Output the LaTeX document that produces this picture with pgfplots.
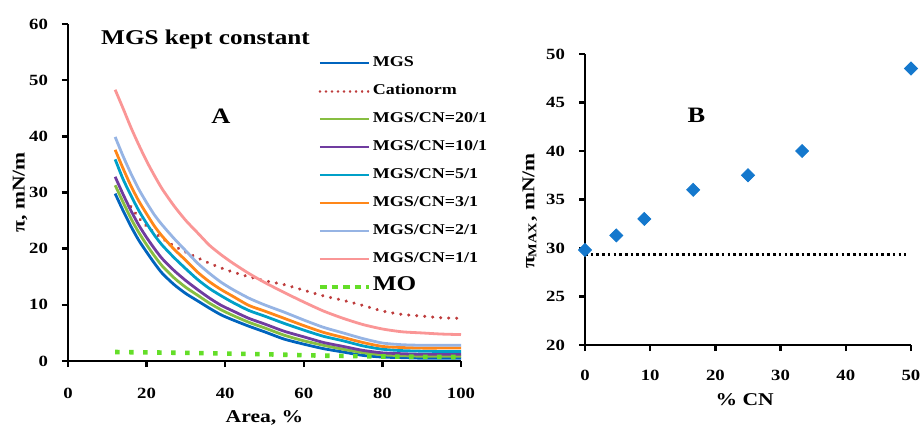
\documentclass[border=0pt]{standalone}
\usepackage{fontspec}
\setmainfont{Liberation Serif}[FakeStretch=1.2]
\usepackage{pgfplots}
\pgfplotsset{compat=1.18}
\definecolor{cMGS}{RGB}{0,100,190}
\definecolor{cCat}{RGB}{190,60,60}
\definecolor{cG}{RGB}{135,190,65}
\definecolor{cP}{RGB}{112,60,160}
\definecolor{cT}{RGB}{0,160,200}
\definecolor{cO}{RGB}{255,135,25}
\definecolor{cLB}{RGB}{150,180,228}
\definecolor{cPk}{RGB}{250,150,150}
\definecolor{cMO}{RGB}{100,222,40}
\definecolor{cDia}{RGB}{20,120,205}
\pgfplotsset{
  common/.style={
    scale only axis,
    axis x line*=bottom, axis y line*=left,
    axis line style={line width=1.2pt, black},
    tick style={line width=1.2pt, black},
    tick align=outside, major tick length=3pt,
    minor tick num=0,
    /pgf/number format/assume math mode=true,
    ticklabel style={font=\bfseries\fontsize{7.8}{9}\selectfont},
    yticklabel style={xshift=-3.5pt},
    label style={font=\bfseries\fontsize{9}{11}\selectfont},
    clip=false,
  },
  crv/.style={line width=1.4pt, smooth, tension=0.4, legend image post style={line width=1.1pt}},
}
\begin{document}
\begin{tikzpicture}
\path[use as bounding box] (0,0) rectangle (460.5pt,212.5pt);
\begin{axis}[common,
  at={(34pt,32pt)}, anchor=south west,
  width=196.5pt, height=168.5pt,
  xmin=0, xmax=100, ymin=0, ymax=60,
  xtick={0,20,...,100}, ytick={0,10,...,60},
  xticklabel style={yshift=-7pt},
  xlabel={Area, \%}, ylabel={π, mN/m},
  xlabel style={at={(axis description cs:0.5,-0.168)}, anchor=center},
  ylabel style={at={(axis description cs:-0.122,0.5)}, anchor=center},
  legend style={at={(0.635,0.91)}, anchor=north west, draw=none, fill=none,
    inner sep=0pt, row sep=5.5pt,
    font=\bfseries\fontsize{7.5}{9}\selectfont,
    nodes={inner sep=1pt, text height=5pt, text depth=1.5pt}},
  legend cell align=left,
  legend image code/.code={\draw[#1] (0pt,0pt) -- (24.5pt,0pt);},
]
\addplot[cMGS, crv] coordinates {
(12,29.8)(14,26.8)(16,24.0)(18,21.5)(20,19.4)(22,17.4)(24,15.6)(27,13.6)(30,12.0)(33,10.7)(36,9.4)(39,8.2)(42,7.3)(46,6.2)(50,5.2)(55,3.9)(60,3.0)(65,2.2)(70,1.6)(75,1.0)(80,0.7)(85,0.6)(90,0.5)(95,0.5)(100,0.5)};
\addlegendentry{MGS}
\addplot[cCat, line width=1.7pt, line cap=round, dash pattern=on 0.01pt off 4pt, smooth, tension=0.4, legend image post style={line width=1.3pt, dash pattern=on 0.01pt off 3pt}] coordinates {
(16,27.5)(18,25.5)(20,24.0)(24,21.8)(28,20.1)(32,18.7)(36,17.4)(40,16.3)(45,15.2)(50,14.3)(55,13.6)(60,12.6)(65,11.6)(70,10.8)(75,9.9)(80,8.9)(85,8.3)(90,8.0)(95,7.7)(100,7.6)};
\addlegendentry{Cationorm}
\addplot[cG, crv] coordinates {
(12,31.3)(14,28.3)(16,25.4)(18,22.9)(20,20.7)(22,18.7)(24,16.9)(27,14.8)(30,13.1)(33,11.7)(36,10.3)(39,9.1)(42,8.1)(46,6.9)(50,5.9)(55,4.6)(60,3.6)(65,2.8)(70,2.1)(75,1.5)(80,1.1)(85,0.95)(90,0.85)(95,0.85)(100,0.85)};
\addlegendentry{MGS/CN=20/1}
\addplot[cP, crv] coordinates {
(12,32.8)(14,29.7)(16,26.8)(18,24.2)(20,22.0)(22,20.0)(24,18.2)(27,16.1)(30,14.3)(33,12.7)(36,11.2)(39,9.9)(42,8.9)(46,7.6)(50,6.6)(55,5.3)(60,4.3)(65,3.3)(70,2.6)(75,1.9)(80,1.45)(85,1.3)(90,1.2)(95,1.2)(100,1.2)};
\addlegendentry{MGS/CN=10/1}
\addplot[cT, crv] coordinates {
(12,35.9)(14,32.4)(16,29.5)(18,26.8)(20,24.5)(22,22.4)(24,20.6)(27,18.4)(30,16.4)(33,14.5)(36,12.9)(39,11.6)(42,10.4)(46,9.0)(50,8.0)(55,6.7)(60,5.5)(65,4.4)(70,3.6)(75,2.7)(80,2.1)(85,1.85)(90,1.75)(95,1.7)(100,1.7)};
\addlegendentry{MGS/CN=5/1}
\addplot[cO, crv] coordinates {
(12,37.6)(14,34.3)(16,31.2)(18,28.5)(20,26.2)(22,24.0)(24,22.2)(27,19.9)(30,17.9)(33,15.8)(36,14.1)(39,12.7)(42,11.5)(46,9.9)(50,8.9)(55,7.6)(60,6.3)(65,5.1)(70,4.2)(75,3.3)(80,2.6)(85,2.4)(90,2.3)(95,2.3)(100,2.3)};
\addlegendentry{MGS/CN=3/1}
\addplot[cLB, crv] coordinates {
(12,39.9)(14,36.5)(16,33.4)(18,30.6)(20,28.2)(22,26.0)(24,24.2)(27,21.8)(30,19.6)(33,17.4)(36,15.6)(39,14.0)(42,12.7)(46,11.2)(50,10.0)(55,8.7)(60,7.3)(65,6.0)(70,5.0)(75,4.0)(80,3.2)(85,2.9)(90,2.8)(95,2.8)(100,2.8)};
\addlegendentry{MGS/CN=2/1}
\addplot[cPk, crv] coordinates {
(12,48.3)(14,45.0)(16,41.6)(18,38.5)(20,35.6)(22,33.0)(24,30.6)(27,27.6)(30,25.0)(33,22.8)(36,20.6)(39,18.9)(42,17.4)(46,15.6)(50,14.0)(55,12.2)(60,10.5)(65,8.9)(70,7.6)(75,6.5)(80,5.7)(85,5.2)(90,5.0)(95,4.8)(100,4.7)};
\addlegendentry{MGS/CN=1/1}
\addplot[cMO, line width=2.3pt, dash pattern=on 2.2pt off 4.8pt, legend image post style={line width=2pt, dash pattern=on 3.3pt off 2.5pt}] coordinates {
(12,1.6)(30,1.45)(50,1.2)(65,0.95)(80,0.8)(100,0.7)};
\addlegendentry{\fontsize{10.5}{11}\selectfont MO}
\node[font=\bfseries\fontsize{10.5}{12}\selectfont] at (axis cs:35,57.3) {MGS kept constant};
\node[font=\bfseries\fontsize{11}{12}\selectfont] at (axis cs:38.9,43.6) {A};
\end{axis}
\begin{axis}[common,
  at={(292.5pt,40pt)}, anchor=south west,
  width=163pt, height=145.5pt,
  xmin=0, xmax=50, ymin=20, ymax=50,
  xtick={0,10,...,50}, ytick={20,25,...,50},
  xticklabel style={yshift=-6pt},
  xlabel={\% CN}, ylabel={π\textsubscript{MAX}, mN/m},
  xlabel style={at={(axis description cs:0.49,-0.189)}, anchor=center},
  ylabel style={at={(axis description cs:-0.169,0.46)}, anchor=center},
]
\addplot[black, line width=1.4pt, dash pattern=on 1.3pt off 1.55pt] coordinates {(0,29.3)(49.3,29.3)};
\addplot[only marks, mark=square*, mark size=2.3pt, mark options={rotate=45, cDia, draw=cDia}] coordinates {
(0,29.8)(4.8,31.3)(9.1,33.0)(16.6,36.0)(25,37.5)(33.3,40.0)(50,48.5)};
\node[font=\bfseries\fontsize{11}{12}\selectfont] at (axis cs:17.1,43.7) {B};
\end{axis}
\end{tikzpicture}
\end{document}
